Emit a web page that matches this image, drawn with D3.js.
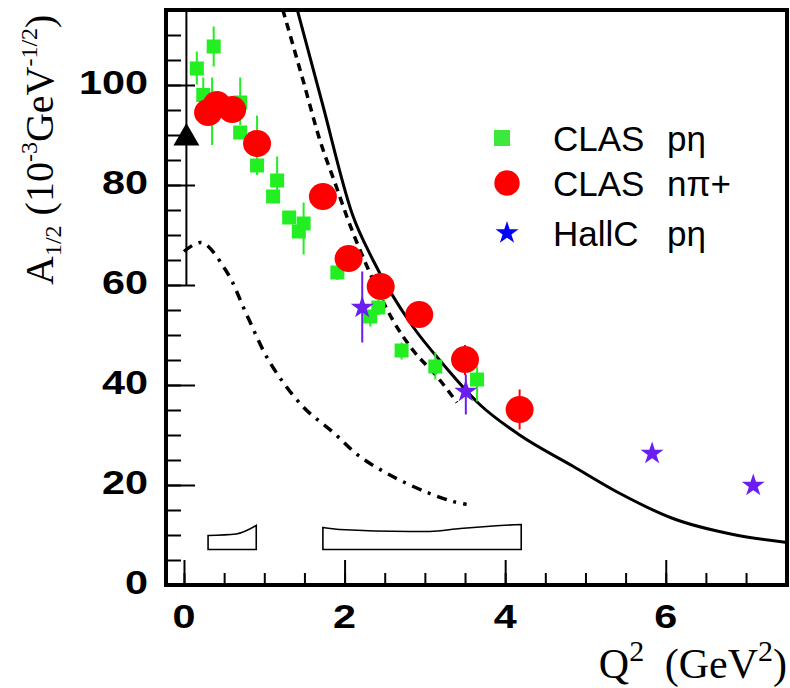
<!DOCTYPE html>
<meta charset="utf-8">
<html>
<head>
<style>
body { margin: 0; background: #fff; }
.tick line { stroke: #000; stroke-width: 2; }
.ticklab { font-family: "Liberation Sans", Arial, sans-serif; font-weight: bold; font-size: 33px; }
.title { font-family: "Liberation Serif", "Times New Roman", serif; font-size: 40px; }
.leg { font-family: "Liberation Sans", Arial, sans-serif; font-size: 35px; }
</style>
</head>
<body>
<svg id="chart" width="790" height="688"></svg>
<script src="https://d3js.org/d3.v7.min.js"></script>
<script>
// CLAS p eta (green squares)
var etaQ2  = [0.16, 0.37, 0.24, 0.35, 0.70, 0.70, 0.91, 1.16, 1.11, 1.31, 1.49, 1.43, 1.91, 2.42, 2.32, 2.71, 3.13, 3.65];
var etaA   = [103.3, 107.7, 98.0, 94.0, 96.5, 90.5, 83.9, 80.9, 77.7, 73.5, 72.3, 70.7, 62.5, 55.5, 53.7, 46.9, 43.7, 41.1];
var etaLo  = [100.1, 103.7, 96.0, 88.0, 92.0, 89.5, 82.0, 76.5, 76.5, 72.5, 66.1, 69.5, 61.0, 54.0, 51.7, 45.1, 41.1, 36.7];
var etaHi  = [106.7, 111.7, 101.5, 101.5, 101.5, 91.5, 93.9, 85.7, 79.0, 74.5, 76.5, 72.0, 64.0, 57.0, 55.0, 48.5, 46.5, 43.7];

// CLAS n pi+ (red circles)
var piQ2 = [0.30, 0.41, 0.60, 0.91, 1.73, 2.05, 2.45, 2.93, 3.50, 4.18];
var piA  = [94.5, 96.1, 95.1, 88.3, 77.7, 65.3, 59.7, 54.1, 45.1, 35.1];
var piLo = [93.0, 95.0, 94.0, 87.0, 76.5, 64.0, 58.5, 53.0, 42.0, 31.1];
var piHi = [96.0, 97.0, 96.0, 89.5, 79.0, 66.5, 61.0, 55.5, 48.0, 39.1];

// Hall C p eta (stars)
var hcQ2 = [2.22, 3.51, 5.83, 7.09];
var hcA  = [55.5, 38.7, 26.3, 19.9];
var hcLo = [48.5, 34.1, 26.3, 19.9];
var hcHi = [62.7, 42.1, 26.3, 19.9];

// photon point at Q2 = 0
var photQ2 = [0.03];
var photA = [89.4];
var photLo = [60];
var photHi = [119];

// model curves
var solidQ2 = [1.41, 1.72, 2.10, 2.35, 2.85, 3.23, 3.69, 4.18, 4.84, 5.43, 6.09, 6.84, 7.51];
var solidA  = [115.1, 96.5, 74.0, 65.1, 51.7, 44.1, 36.0, 30.0, 23.8, 18.3, 13.3, 10.1, 8.5];
var dashQ2 = [1.23, 1.48, 1.69, 1.91, 2.03, 2.28, 2.60, 2.85, 3.15, 3.40];
var dashA  = [115.1, 101.1, 89.1, 79.1, 73.6, 63.7, 53.0, 47.0, 41.7, 36.5];
var ddQ2 = [0.0, 0.22, 0.53, 0.78, 1.07, 1.48, 1.86, 2.19, 2.60, 3.03, 3.35, 3.52];
var ddA  = [66.7, 68.5, 62.7, 54.1, 44.5, 35.7, 30.5, 25.7, 21.7, 18.5, 16.7, 16.1];

// systematic error bands
var band1Q2 = [0.30, 0.65, 0.90];
var band1Top = [9.9, 10.2, 11.9];
var band2Q2 = [1.73, 1.94, 2.81, 3.06, 3.44, 3.85, 4.20];
var band2Top = [11.5, 11.1, 10.7, 10.7, 11.3, 11.8, 12.1];
var bandBottom = 7.1;

// axes
var xMajor = [0, 2, 4, 6];
var yMajor = [0, 20, 40, 60, 80, 100];

var legendNames = [["CLAS", "pη"], ["CLAS", "nπ+"], ["HallC", "pη"]];

var svg = d3.select("#chart");

var x = d3.scaleLinear().domain([-0.224, 7.51]).range([166, 787]);
var y = d3.scaleLinear().domain([0, 115]).range([585, 10]);

svg.append("defs").append("clipPath").attr("id", "plotclip")
  .append("rect").attr("x", 166).attr("y", 10).attr("width", 621).attr("height", 575);

// ticks pointing inward
function ticksB(vals, len) {
  var g = svg.append("g").attr("transform", "translate(0,585)")
    .call(d3.axisBottom(x).tickValues(vals).tickSize(-len).tickFormat(""));
  g.select(".domain").remove();
  g.selectAll("text").remove();
}
function ticksL(vals, len) {
  var g = svg.append("g").attr("transform", "translate(166,0)")
    .call(d3.axisLeft(y).tickValues(vals).tickSize(-len).tickFormat(""));
  g.select(".domain").remove();
  g.selectAll("text").remove();
}
ticksB(d3.range(0, 7.51, 0.5), 12);
ticksB(xMajor, 25);
ticksL(d3.range(0, 115, 5), 15);
ticksL(yMajor, 29);

// tick labels
svg.selectAll(".xlab").data(xMajor).enter().append("text")
  .attr("class", "ticklab")
  .attr("x", function(d) { return x(d); })
  .attr("y", 628)
  .attr("text-anchor", "middle")
  .attr("textLength", function(d) { return String(d).length * 23; })
  .attr("lengthAdjust", "spacingAndGlyphs")
  .text(function(d) { return d; });

svg.selectAll(".ylab").data(yMajor).enter().append("text")
  .attr("class", "ticklab")
  .attr("x", 148)
  .attr("y", function(d) { return y(d) + 8.5; })
  .attr("text-anchor", "end")
  .attr("textLength", function(d) { return String(d).length * 23; })
  .attr("lengthAdjust", "spacingAndGlyphs")
  .text(function(d) { return d; });

// axis titles
var xt = svg.append("text").attr("class", "title")
  .attr("x", 787).attr("y", 678).attr("text-anchor", "end").style("font-size", "42px");
xt.append("tspan").text("Q");
xt.append("tspan").attr("dy", -17).style("font-size", "30px").text("2");
xt.append("tspan").attr("dy", 17).attr("dx", 10).text(" (GeV");
xt.append("tspan").attr("dy", -17).style("font-size", "30px").text("2");
xt.append("tspan").attr("dy", 17).text(")");

var yt = svg.append("text").attr("class", "title")
  .attr("transform", "translate(53,285) rotate(-90)")
  .attr("text-anchor", "start");
yt.append("tspan").text("A");
yt.append("tspan").attr("dy", 8).style("font-size", "24px").text("1/2");
yt.append("tspan").attr("dy", -8).text(" (10");
yt.append("tspan").attr("dy", -16).style("font-size", "24px").text("-3");
yt.append("tspan").attr("dy", 16).text("GeV");
yt.append("tspan").attr("dy", -16).style("font-size", "24px").text("-1/2");
yt.append("tspan").attr("dy", 16).text(")");

var plot = svg.append("g").attr("clip-path", "url(#plotclip)");

// bands: smooth top edge, flat bottom
var topLine = d3.line().curve(d3.curveMonotoneX);
[[band1Q2, band1Top], [band2Q2, band2Top]].forEach(function(b) {
  var pts = b[0].map(function(d, i) { return [x(d), y(b[1][i])]; });
  var n = b[0].length - 1;
  var d = topLine(pts) + "L" + x(b[0][n]) + "," + y(bandBottom) +
          "L" + x(b[0][0]) + "," + y(bandBottom) + "Z";
  plot.append("path").attr("d", d)
    .attr("fill", "none").attr("stroke", "#000").attr("stroke-width", 1.6);
});

// curves
var line = d3.line().curve(d3.curveMonotoneX)
  .x(function(d) { return x(d[0]); }).y(function(d) { return y(d[1]); });
function zip(a, b) { return a.map(function(d, i) { return [d, b[i]]; }); }

plot.append("path").attr("d", line(zip(solidQ2, solidA)))
  .attr("fill", "none").attr("stroke", "#000").attr("stroke-width", 3);
plot.append("path").attr("d", line(zip(dashQ2, dashA)))
  .attr("fill", "none").attr("stroke", "#000").attr("stroke-width", 3.5)
  .attr("stroke-dasharray", "8,6");
plot.append("path").attr("d", d3.line().curve(d3.curveCatmullRom)
    .x(function(d) { return x(d[0]); }).y(function(d) { return y(d[1]); })(zip(ddQ2, ddA)))
  .attr("fill", "none").attr("stroke", "#000").attr("stroke-width", 3.5)
  .attr("stroke-dasharray", "10,7,3,7");

// error bars + markers
function errBars(q, lo, hi, col) {
  plot.append("g").selectAll("line").data(q).enter().append("line")
    .attr("x1", function(d) { return x(d); })
    .attr("x2", function(d) { return x(d); })
    .attr("y1", function(d, i) { return y(lo[i]); })
    .attr("y2", function(d, i) { return y(hi[i]); })
    .attr("stroke", col).attr("stroke-width", 2);
}

errBars(photQ2, photLo, photHi, "#000");
plot.append("path")
  .attr("d", d3.symbol(d3.symbolTriangle, 292)())
  .attr("transform", "translate(" + x(photQ2[0]) + "," + y(photA[0]) + ")")
  .attr("fill", "#000");

errBars(etaQ2, etaLo, etaHi, "#22ee22");
plot.append("g").selectAll("rect").data(etaQ2).enter().append("rect")
  .attr("x", function(d) { return x(d) - 7; })
  .attr("y", function(d, i) { return y(etaA[i]) - 7; })
  .attr("width", 14).attr("height", 14)
  .attr("fill", "#22ee22");

errBars(piQ2, piLo, piHi, "#ff0000");
plot.append("g").selectAll("ellipse").data(piQ2).enter().append("ellipse")
  .attr("cx", function(d) { return x(d); })
  .attr("cy", function(d, i) { return y(piA[i]); })
  .attr("rx", 14).attr("ry", 13.5)
  .attr("fill", "#ff0000");

errBars(hcQ2, hcLo, hcHi, "#6a1ef0");
plot.append("g").selectAll("path").data(hcQ2).enter().append("path")
  .attr("d", d3.symbol(d3.symbolStar, 165)())
  .attr("transform", function(d, i) { return "translate(" + x(d) + "," + y(hcA[i]) + ")"; })
  .attr("fill", "#6a1ef0");

// legend
var legY = [138, 183, 233];
var lg = svg.append("g");
lg.append("rect").attr("x", 494).attr("y", legY[0] - 8).attr("width", 16).attr("height", 16).attr("fill", "#3de83d");
lg.append("circle").attr("cx", 507).attr("cy", legY[1]).attr("r", 12.7).attr("fill", "#ff0000");
lg.append("path").attr("d", d3.symbol(d3.symbolStar, 165)())
  .attr("transform", "translate(507," + legY[2] + ")").attr("fill", "#0000ff");
legendNames.forEach(function(n, i) {
  lg.append("text").attr("class", "leg").attr("x", 553).attr("y", legY[i] + 12.5).text(n[0]);
  lg.append("text").attr("class", "leg").attr("x", 667).attr("y", legY[i] + 12.5).text(n[1]);
});

// frame
svg.append("rect").attr("x", 166).attr("y", 10).attr("width", 621).attr("height", 575)
  .attr("fill", "none").attr("stroke", "#000").attr("stroke-width", 4);
</script>
</body>
</html>
